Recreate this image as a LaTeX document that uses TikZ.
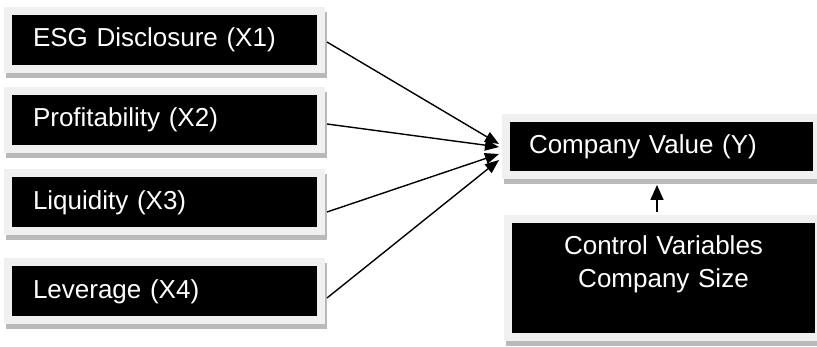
\documentclass[tikz,border=0pt]{standalone}
\usepackage{fontspec}
\setmainfont{Liberation Sans}
\usetikzlibrary{arrows.meta,backgrounds}
\definecolor{framegray}{RGB}{240,240,240}
\definecolor{shadowgray}{RGB}{185,185,185}
\begin{document}
\begin{tikzpicture}[x=1pt,y=-1pt,
  box/.style={draw=framegray, line width=8pt, fill=black, text=white,
    font=\fontsize{26pt}{33pt}\selectfont, inner ysep=0pt},
  leftbox/.style={box, minimum width=313pt, minimum height=58pt,
    inner xsep=25pt, text width=263pt, align=left},
  conn/.style={line width=1.4pt, -{Triangle[length=14pt,width=11pt]}},
  upconn/.style={line width=1.6pt, -{Triangle[length=15pt,width=13pt]}},
]
\useasboundingbox (0,0) rectangle (817,347);

\node[leftbox] (x1) at (164.5,40) {ESG Disclosure (X1)};
\node[leftbox] (x2) at (164.5,120) {Profitability (X2)};
\node[leftbox] (x3) at (164.5,202.5) {Liquidity (X3)};
\node[leftbox] (x4) at (164.5,291.5) {Leverage (X4)};

\node[box, minimum width=311pt, minimum height=57pt, inner xsep=23pt,
  text width=265pt, align=left] (comp) at (661.5,146.5) {Company Value (Y)};

\node[box, minimum width=311pt, minimum height=118pt, inner xsep=23pt,
  text width=265pt, align=center] (ctrl) at (663.5,278)
  {Control Variables\\Company Size\\\mbox{}};

\begin{scope}[on background layer]
  \foreach \n in {x1,x2,x3,x4,comp,ctrl}
    \fill[shadowgray] ([xshift=2pt,yshift=-5pt]\n.south west)
      rectangle ([xshift=2pt,yshift=-5pt]\n.north east);
\end{scope}

\draw[conn] ([xshift=2pt,yshift=-2pt]x1.east) -- ([xshift=-3pt,yshift=2.5pt]comp.west);
\draw[conn] ([xshift=2pt,yshift=-4pt]x2.east) -- ([xshift=-3pt,yshift=-0.5pt]comp.west);
\draw[conn] ([xshift=2pt,yshift=-9.5pt]x3.east) -- ([xshift=-3pt,yshift=-7.5pt]comp.west);
\draw[conn] ([xshift=2pt,yshift=-6.5pt]x4.east) -- ([xshift=-3pt,yshift=-13.5pt]comp.west);

\draw[upconn] ([xshift=-6.5pt,yshift=3pt]ctrl.north) -- ([xshift=-4.5pt,yshift=-6pt]comp.south);
\end{tikzpicture}
\end{document}
